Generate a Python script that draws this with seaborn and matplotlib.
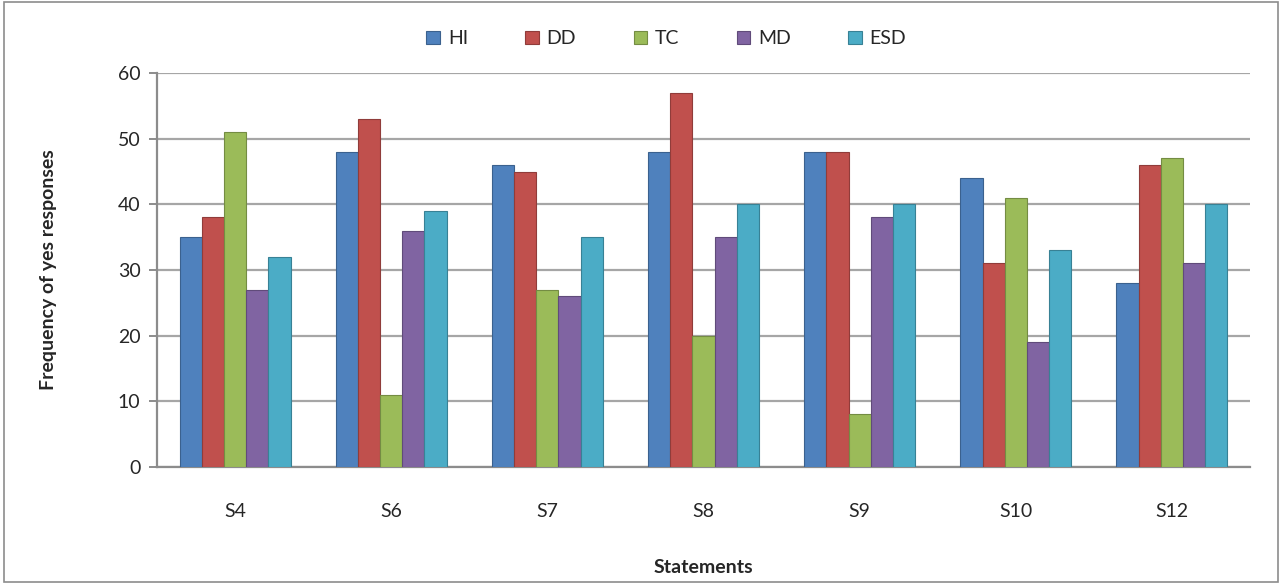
import pandas as pd
import seaborn as sns
import matplotlib.pyplot as plt
from matplotlib.patches import Rectangle


# -------------------------------------------------
# Data
# -------------------------------------------------

statements = ["S4", "S6", "S7", "S8", "S9", "S10", "S12"]
groups = ["HI", "DD", "TC", "MD", "ESD"]

hi = [35, 48, 46, 48, 48, 44, 28]
dd = [38, 53, 45, 57, 48, 31, 46]
tc = [51, 11, 27, 20, 8, 41, 47]
md = [27, 36, 26, 35, 38, 19, 31]
esd = [32, 39, 35, 40, 40, 33, 40]

y_ticks = [0, 10, 20, 30, 40, 50, 60]

colors = ["#4F81BD", "#C0504D", "#9BBB59", "#8064A2", "#4BACC6"]


# -------------------------------------------------
# Build long table
# -------------------------------------------------

rows = []
for name, vals in zip(groups, [hi, dd, tc, md, esd]):
    for s, v in zip(statements, vals):
        rows.append({"Statement": s, "Group": name, "Count": v})
data = pd.DataFrame(rows)


# -------------------------------------------------
# Plot
# -------------------------------------------------

sns.set_style("white")
plt.rcParams['font.family'] = ['Lato', 'DejaVu Sans']

fig = plt.figure(figsize=(12.82, 5.84), dpi=100)
ax = fig.add_axes([0.1225, 0.2003, 0.8525, 0.6747])

sns.barplot(
    data=data,
    x="Statement",
    y="Count",
    hue="Group",
    order=statements,
    hue_order=groups,
    palette=colors,
    width=0.71,
    gap=0.0,
    saturation=1,
    ax=ax,
    zorder=3
)

for patch in ax.patches:
    fc = patch.get_facecolor()
    patch.set_edgecolor(tuple(c * 0.75 for c in fc[:3]))
    patch.set_linewidth(0.8)

ax.set_ylim(0, 60)
ax.set_yticks(y_ticks)
ax.set_yticklabels([str(t) for t in y_ticks])
ax.set_xlim(-0.5, len(statements) - 0.5)

ax.yaxis.grid(True, color="#A6A6A6", linewidth=1.6, zorder=0)
ax.set_axisbelow(True)

for loc, spine in ax.spines.items():
    if loc in ["left", "bottom"]:
        spine.set_visible(True)
        spine.set_color("#8C8C8C")
        spine.set_linewidth(1.6)
    else:
        spine.set_visible(False)

ax.tick_params(axis="y", direction="out", length=6, width=1.4,
               color="#8C8C8C", labelsize=14, pad=6)
ax.tick_params(axis="x", length=0, labelsize=14, pad=26)
ax.yaxis.set_ticks_position("left")

ax.set_xlabel("Statements", fontsize=14, fontweight="bold", labelpad=28)
ax.set_ylabel("Frequency of yes responses", fontsize=14, fontweight="bold",
              labelpad=44)

handles, labels = ax.get_legend_handles_labels()
ax.legend(handles, labels, loc="center", bbox_to_anchor=(0.466, 1.087),
          ncol=5, frameon=False, fontsize=14, handlelength=0.7,
          handleheight=0.7, handletextpad=0.4, columnspacing=2.95)

fig.patches.append(Rectangle((0.003, 0.003), 0.994, 0.994,
                             transform=fig.transFigure, fill=False,
                             edgecolor="#8C8C8C", linewidth=1.2))

fig.savefig("out.png", dpi=100)
